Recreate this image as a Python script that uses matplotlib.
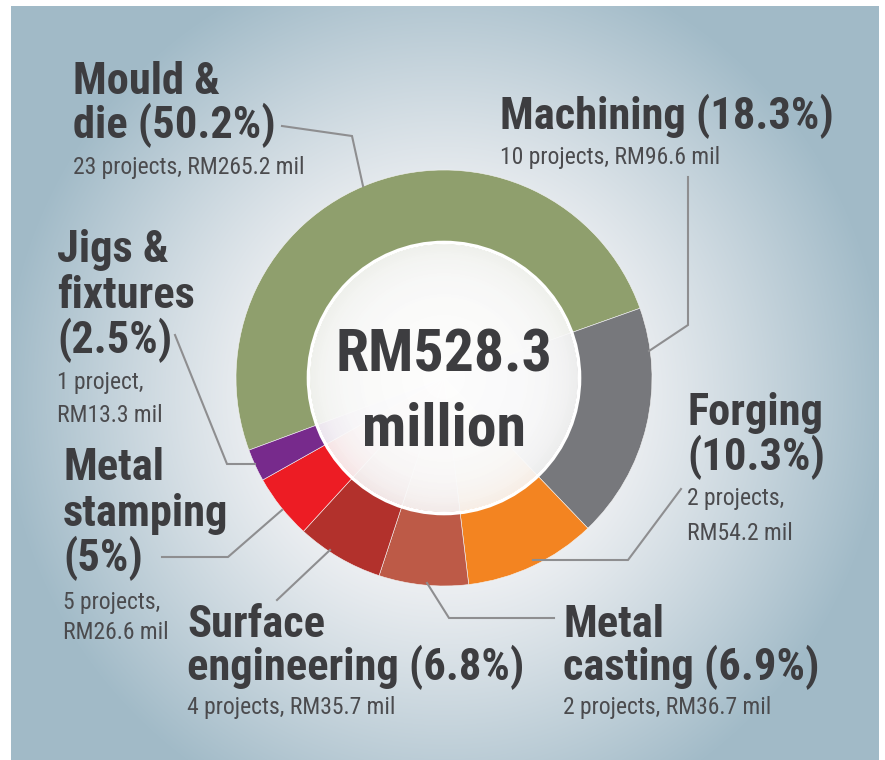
import os

import matplotlib
matplotlib.use("Agg")
import matplotlib.pyplot as plt
import numpy as np
from matplotlib import font_manager as fm
from matplotlib.patches import Circle

W, H = 885, 760

# data
segments = ["Mould & die", "Machining", "Forging", "Metal casting",
            "Surface engineering", "Metal stamping", "Jigs & fixtures"]
shares = [50.2, 18.3, 10.3, 6.9, 6.8, 5, 2.5]
projects = [23, 10, 2, 2, 4, 5, 1]
value_mil = [265.2, 96.6, 54.2, 36.7, 35.7, 26.6, 13.3]
total_mil = 528.3

colors = ["#8f9f6d", "#77787c", "#f38421", "#bd5a47", "#b2312c", "#ed1c24", "#772a8c"]

HEAD_C = "#3d3d40"
SUB_C = "#4b4b4e"
LINE_C = "#8e8e90"

CX, CY, R_OUT, R_IN = 444, 378, 208, 134

FAMILY_RANK = ["notosans-", "roboto", "opensans", "dejavusans", "liberationsans"]


def _weight(w):
    if isinstance(w, (int, float)):
        return w
    return {"bold": 700, "normal": 400, "regular": 400, "semibold": 600,
            "light": 300, "medium": 500}.get(str(w).lower(), 400)


def find_condensed(bold):
    best, best_score = None, None
    target = 700 if bold else 400
    for f in fm.fontManager.ttflist:
        fn = os.path.basename(f.fname).lower().replace("_", "").replace(" ", "")
        if f.style != "normal" or "italic" in fn:
            continue
        if not ("condensed" in fn or "narrow" in fn or f.stretch in ("condensed", "semi-condensed")):
            continue
        score = abs(_weight(f.weight) - target)
        if "extra" in fn or "ultra" in fn:
            score += 150
        if "semi" in fn:
            score += 60
        rank = next((i for i, k in enumerate(FAMILY_RANK) if fn.startswith(k)), len(FAMILY_RANK))
        score += rank * 5
        if best_score is None or score < best_score:
            best, best_score = f.fname, score
    return best


bold_file = find_condensed(True)
reg_file = find_condensed(False)
if bold_file and reg_file:
    BOLD = fm.FontProperties(fname=bold_file)
    REG = fm.FontProperties(fname=reg_file)
    shrink = 1.0
else:
    BOLD = fm.FontProperties(family=["Liberation Sans", "DejaVu Sans"], weight="bold")
    REG = fm.FontProperties(family=["Liberation Sans", "DejaVu Sans"])
    shrink = 0.8

HEAD_FS = 32 * shrink
SUB_FS = 17 * shrink
CENTER_FS = 43 * shrink


def Y(y):
    # image rows (top-down) to data y
    return H - y


fig = plt.figure(figsize=(W / 100, H / 100), dpi=100)
ax = fig.add_axes([0, 0, 1, 1])

# radial background panel
px0, px1, py0, py1 = 11, 879, 6, 760
gx, gy = np.meshgrid(np.arange(px0, px1), np.arange(py0, py1))
rr = np.hypot(gx - CX, (gy - 395) / 1.02)
t = np.clip((rr - 170) / 270.0, 0, 1) ** 1.1
light = np.array([0.94, 0.945, 0.955])
blue = np.array([0.635, 0.733, 0.784])
bg = light[None, None, :] * (1 - t[..., None]) + blue[None, None, :] * t[..., None]
ax.imshow(bg, extent=(px0, px1, Y(py1), Y(py0)), origin="upper", zorder=0, interpolation="bilinear")

# donut
ax.pie(value_mil, colors=colors, center=(CX, Y(CY)), radius=R_OUT,
       startangle=200.3, counterclock=False,
       wedgeprops=dict(linewidth=0.4, edgecolor="#f4f4f4"))

# translucent centre disc
dx, dy = np.meshgrid(np.linspace(-R_IN, R_IN, 300), np.linspace(-R_IN, R_IN, 300))
rd = np.hypot(dx, dy) / R_IN
disc = np.ones((300, 300, 4))
disc[..., :3] = 0.975 + 0.025 * (1 - rd[..., None])
disc[..., 3] = np.clip(1 - 0.08 * rd ** 6, 0, 1)
im = ax.imshow(disc, extent=(CX - R_IN, CX + R_IN, Y(CY) - R_IN, Y(CY) + R_IN),
               zorder=3, interpolation="bilinear")
im.set_clip_path(Circle((CX, Y(CY)), R_IN, transform=ax.transData))
ax.add_patch(Circle((CX, Y(CY)), R_IN + 1.5, fill=False, edgecolor="white", lw=2.6, zorder=4))

ax.text(CX, Y(372), f"RM{total_mil}", ha="center", va="baseline", fontproperties=BOLD,
        fontsize=CENTER_FS, color=HEAD_C, zorder=5)
ax.text(CX, Y(445), "million", ha="center", va="baseline", fontproperties=BOLD,
        fontsize=CENTER_FS, color=HEAD_C, zorder=5)


def pct(s):
    return f"({s:g}%)"


def sub(n, v, split):
    p = f"{n} project{'s' if n > 1 else ''},"
    m = f"RM{v} mil"
    return [p, m] if split else [p + " " + m]


heads = [
    ["Mould &", "die " + pct(shares[0])],
    ["Machining " + pct(shares[1])],
    ["Forging", pct(shares[2])],
    ["Metal", "casting " + pct(shares[3])],
    ["Surface", "engineering " + pct(shares[4])],
    ["Metal", "stamping", pct(shares[5])],
    ["Jigs &", "fixtures", pct(shares[6])],
]
split_sub = [False, False, True, False, False, True, True]

# label layout: x, header baselines, sub baselines (image rows)
layout = [
    (73, [94, 138], [174]),
    (500, [129], [164]),
    (687, [425, 470], [505, 540]),
    (563, [637, 680], [714]),
    (187, [637, 680], [714]),
    (63, [480, 526, 571], [609, 639]),
    (57, [262, 308, 353], [389, 422]),
]

for i in range(len(segments)):
    x, hb, sb = layout[i]
    for line, yb in zip(heads[i], hb):
        ax.text(x, Y(yb), line, ha="left", va="baseline", fontproperties=BOLD,
                fontsize=HEAD_FS, color=HEAD_C, zorder=5)
    for line, yb in zip(sub(projects[i], value_mil[i], split_sub[i]), sb):
        ax.text(x, Y(yb), line, ha="left", va="baseline", fontproperties=REG,
                fontsize=SUB_FS, color=SUB_C, zorder=5)

# leader lines
leaders = [
    [(282, 126), (352, 136), (363, 186)],
    [(688, 177), (688, 325), (649, 351)],
    [(681, 489), (628, 560), (533, 560)],
    [(554, 618), (449, 618), (427, 583)],
    [(277, 600), (330, 550)],
    [(162, 557), (228, 557), (282, 510)],
    [(175, 335), (227, 464), (255, 464)],
]
for pts in leaders:
    xs = [p[0] for p in pts]
    ys = [Y(p[1]) for p in pts]
    ax.plot(xs, ys, color=LINE_C, lw=1.5, zorder=2, solid_joinstyle="miter")

ax.set_xlim(0, W)
ax.set_ylim(0, H)
ax.set_aspect("equal")
ax.axis("off")

fig.savefig("out.png", dpi=100, facecolor="white")
